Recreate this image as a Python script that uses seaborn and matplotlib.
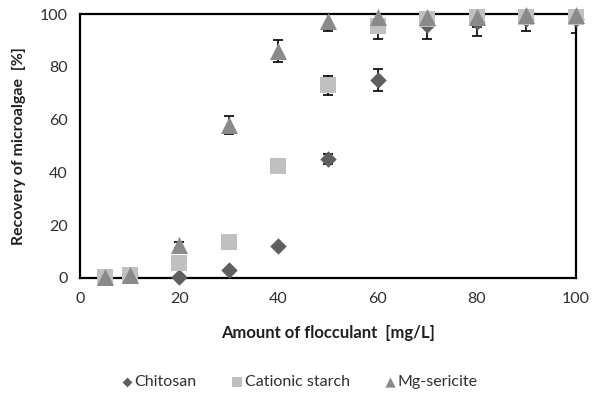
import numpy as np
import pandas as pd
import seaborn as sns
import matplotlib
matplotlib.use("Agg")
from matplotlib import pyplot as plt

# data
dose = [5, 10, 20, 30, 40, 50, 60, 70, 80, 90, 100]
chitosan = [0.5, 1, 0.5, 3, 12, 45, 75, 96, 97, 98, 98]
chitosan_err = [0, 0, 0, 0, 0, 2, 4, 5.5, 5.5, 4.5, 5]
cationic = [0.5, 1, 5.5, 13.5, 42.5, 73, 95.5, 98, 99, 99, 99]
cationic_err = [0, 0, 0, 0, 0, 3.5, 5, 3, 3, 2, 2]
mg = [0.5, 1, 12.5, 58, 86, 97.5, 99, 99, 99, 99.5, 99.5]
mg_err = [0, 0, 1, 3.5, 4, 4, 3, 4, 4, 3, 3]

names = ["Chitosan", "Cationic starch", "Mg-sericite"]
colors = {"Chitosan": "#5f5f5f", "Cationic starch": "#c0c0c0", "Mg-sericite": "#8a8a8a"}
markers = {"Chitosan": "D", "Cationic starch": "s", "Mg-sericite": "^"}
sizes = {"Chitosan": 70, "Cationic starch": 140, "Mg-sericite": 150}

rows = []
for name, ys, es in zip(names, [chitosan, cationic, mg], [chitosan_err, cationic_err, mg_err]):
    for x, y, e in zip(dose, ys, es):
        rows.append({"dose": x, "recovery": y, "err": e, "series": name})
df = pd.DataFrame(rows)

sns.set_theme(style="white")
plt.rcParams["font.family"] = ["Lato", "DejaVu Sans"]

fig = plt.figure(figsize=(5.93, 4.01), dpi=100)
ax = fig.add_axes([0.135, 0.307, 0.836, 0.658])

# error bars first, markers on top
for name in names:
    d = df[df.series == name]
    ax.errorbar(d.dose, d.recovery, yerr=d.err, fmt="none", ecolor="black",
                elinewidth=1.2, capsize=3.5, capthick=1.2, zorder=2)

for name in names:
    d = df[df.series == name]
    sns.scatterplot(data=d, x="dose", y="recovery", marker=markers[name],
                    color=colors[name], s=sizes[name], linewidth=0,
                    label=name, ax=ax, zorder=3, clip_on=False)

ax.set_xlim(0, 100)
ax.set_ylim(0, 100)
ax.set_xticks(range(0, 101, 20))
ax.set_yticks(range(0, 101, 20))
for s in ax.spines.values():
    s.set_color("black")
    s.set_linewidth(1.6)
ax.tick_params(axis="both", direction="out", length=5, width=1, color="#8c8c8c",
               labelsize=11.5, labelcolor="#303030", pad=4)
ax.tick_params(axis="x", pad=5)

ax.set_xlabel("Amount of flocculant  [mg/L]", fontsize=12, fontweight="bold",
              color="#202020", labelpad=14)
ax.set_ylabel("Recovery of microalgae  [%]", fontsize=11.5, fontweight="bold",
              color="#202020", labelpad=10)

leg = ax.legend(loc="center", bbox_to_anchor=(0.44, -0.395), ncol=3, frameon=False,
                fontsize=11.5, handletextpad=0.0, columnspacing=2.0,
                markerscale=0.6, handlelength=1.0)
for t in leg.get_texts():
    t.set_color("#303030")

fig.savefig("out.png", dpi=100)
